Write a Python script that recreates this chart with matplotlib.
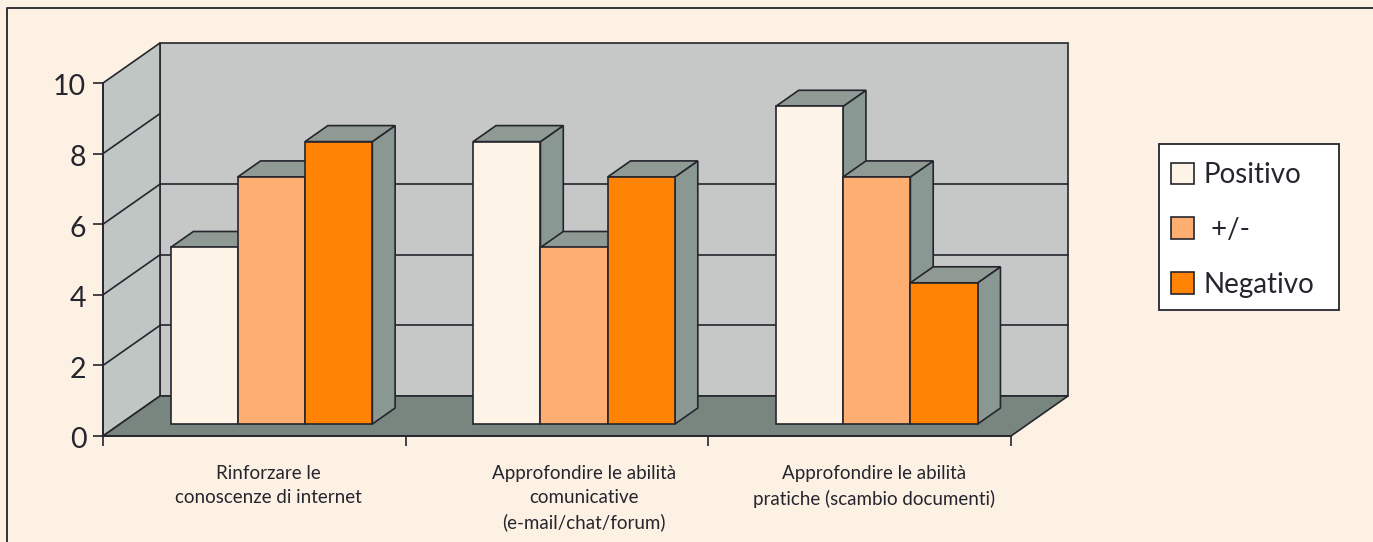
import matplotlib
matplotlib.use("Agg")
import matplotlib.pyplot as plt
from matplotlib.lines import Line2D
from matplotlib.patches import Rectangle
from matplotlib.transforms import ScaledTranslation

plt.rcParams["font.family"] = "Lato"

categories = [
    "Rinforzare le\nconoscenze di internet",
    "Approfondire le abilità\ncomunicative\n(e-mail/chat/forum)",
    "Approfondire le abilità\npratiche (scambio documenti)",
]
series_names = ["Positivo", " +/-", "Negativo"]
positivo = [5, 8, 9]
misto = [7, 5, 7]
negativo = [8, 7, 4]
y_ticks = [0, 2, 4, 6, 8, 10]
back_grid = [2, 4, 6]
side_grid = [2, 4, 6, 8]

W, H = 1373, 542
INK = "#25252e"
PAPER = "#fdf1e4"
colors = ["#fdf3e6", "#fdae70", "#ff8405"]
SIDE = "#8a9894"
TOP = "#8f9a94"
WALL = "#c5c8c6"
WALL_SIDE = "#bfc6c3"
FLOOR = "#78867f"

# front plane of the fake 3d box, in pixels
X0, X1, Y0, Y10 = 103, 1011, 436, 83
# depth of the box expressed in data units
DX = 57 / ((X1 - X0) / 3)
DY = 40 / ((Y0 - Y10) / 10)
GAP = 1 / 6
BAR_W = 2 / 9
F_FRONT, F_BACK = 0.3, 0.7

fig = plt.figure(figsize=(W / 100, H / 100), dpi=100, facecolor=PAPER)
ax = fig.add_axes([X0 / W, 1 - Y0 / H, (X1 - X0) / W, (Y0 - Y10) / H])
ax.set_xlim(0, 3)
ax.set_ylim(0, 10)
ax.patch.set_visible(False)

# outer frame: only left and top are inside the crop
fig.add_artist(Line2D([7 / W, 7 / W, 1], [0, 1 - 8 / H, 1 - 8 / H], color=INK, lw=1.3))

lw = 1.2
# walls and floor
ax.fill([DX, 3 + DX, 3 + DX, DX], [DY, DY, 10 + DY, 10 + DY], fc=WALL, ec=INK, lw=lw, clip_on=False, zorder=1)
ax.fill([0, DX, DX, 0], [0, DY, 10 + DY, 10], fc=WALL_SIDE, ec=INK, lw=lw, clip_on=False, zorder=1)
ax.fill([0, 3, 3 + DX, DX], [0, 0, DY, DY], fc=FLOOR, ec=INK, lw=lw, clip_on=False, zorder=1)
for v in back_grid:
    ax.plot([DX, 3 + DX], [v + DY, v + DY], color=INK, lw=lw, clip_on=False, zorder=1.5)
for v in side_grid:
    ax.plot([0, DX], [v, v + DY], color=INK, lw=lw, clip_on=False, zorder=1.5)

# bars, left to right so each front hides the neighbour's side
series = [positivo, misto, negativo]
depth_x = (F_BACK - F_FRONT) * DX
depth_y = (F_BACK - F_FRONT) * DY
for j, values in enumerate(series):
    for i, v in enumerate(values):
        left = i + GAP + j * BAR_W + F_FRONT * DX
        base = F_FRONT * DY
        z = 2 + i + j * 0.1
        right = left + BAR_W
        top = base + v
        ax.fill([right, right + depth_x, right + depth_x, right],
                [base, base + depth_y, top + depth_y, top],
                fc=SIDE, ec=INK, lw=lw, clip_on=False, zorder=z)
        ax.fill([left, right, right + depth_x, left + depth_x],
                [top, top, top + depth_y, top + depth_y],
                fc=TOP, ec=INK, lw=lw, clip_on=False, zorder=z)
        ax.bar(left, v, width=BAR_W, bottom=base, align="edge", color=colors[j],
               edgecolor=INK, linewidth=lw, clip_on=False, zorder=z + 0.01,
               label=series_names[j] if i == 0 else None)

# axes
for s in ["top", "right"]:
    ax.spines[s].set_visible(False)
for s in ["left", "bottom"]:
    ax.spines[s].set_color(INK)
    ax.spines[s].set_linewidth(lw)
    ax.spines[s].set_zorder(10)
ax.set_yticks(y_ticks)
ax.set_xticks([0, 1, 2, 3])
ax.set_xticklabels([])
ax.tick_params(axis="y", length=7, width=lw, color=INK, labelsize=20.5, labelcolor=INK, pad=5)
ax.tick_params(axis="x", length=7, width=lw, color=INK)
# digits sit slightly under their ticks in the scan
nudge = ScaledTranslation(0, -2 / 100, fig.dpi_scale_trans)
for t in ax.get_yticklabels():
    t.set_transform(t.get_transform() + nudge)

# category labels sit a bit right of the group centres, like in the source
label_shift = [14, 27, 14]
for i, label in enumerate(categories):
    ax.annotate(label, xy=(i + 0.5, 0), xytext=(label_shift[i], -29), textcoords="offset pixels",
                ha="center", va="top", fontsize=13.5, color=INK, linespacing=1.5,
                annotation_clip=False)

# legend box is drawn apart because its padding is not even on all sides
fig.add_artist(Rectangle((1159 / W, 1 - 310 / H), 180 / W, 166 / H, transform=fig.transFigure,
                         fc="white", ec=INK, lw=1.3, zorder=5))
leg = ax.legend(loc="upper left", bbox_to_anchor=(1171 / W, 1 - 162 / H), bbox_transform=fig.transFigure,
                borderaxespad=0, borderpad=0, fontsize=20, frameon=False, handlelength=0.82,
                handleheight=0.82, handletextpad=0.36, labelspacing=1.04, labelcolor=INK)
leg.remove()
fig.add_artist(leg)
leg.set_zorder(6)

fig.savefig("out.png", dpi=100, facecolor=PAPER)
